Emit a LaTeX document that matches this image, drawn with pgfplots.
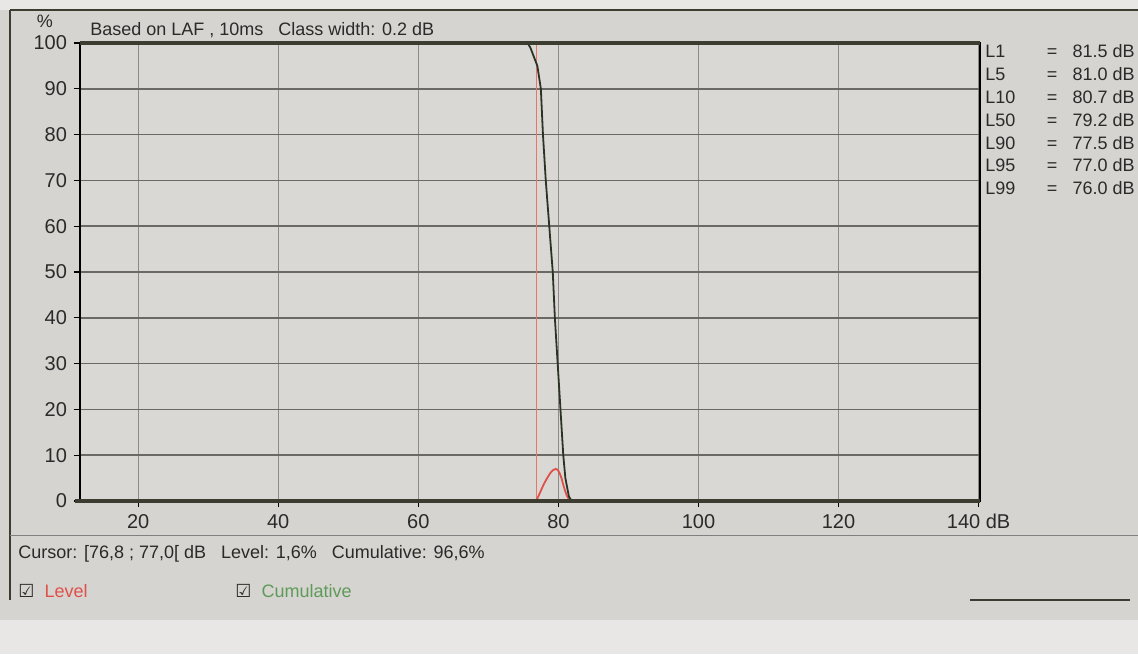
\documentclass[border=0pt]{standalone}
\usepackage{pgfplots}
\pgfplotsset{compat=1.18}
\usepackage{fontspec}
\setmainfont{Liberation Sans}
\newfontfamily\dejavu{DejaVu Sans}
\definecolor{panel}{HTML}{D6D4D0}
\definecolor{plotbg}{HTML}{DAD8D4}
\definecolor{lowstrip}{HTML}{E8E7E5}
\definecolor{frame}{HTML}{3C3C30}
\definecolor{txt}{HTML}{2A2A2A}
\definecolor{levelred}{HTML}{E0504A}
\definecolor{cursorred}{HTML}{E6766A}
\definecolor{cumul}{HTML}{2B3325}
\definecolor{cumgreen}{HTML}{5E9A5A}
\definecolor{gridv}{HTML}{8C8B87}
\definecolor{gridh}{HTML}{6A6965}

\pgfplotstableread{
x y
75.6 100
76.0 99
76.5 97
77.0 95
77.5 90
77.8 80
78.2 70
78.7 60
79.2 50
79.5 40
79.9 30
80.3 20
80.7 10
81.0 5
81.5 1
81.9 0
}\cumtable

\pgfplotstableread{
x y
76.8 0
77.2 1.2
77.6 2.6
78.0 3.9
78.4 5.0
78.8 6.0
79.2 6.7
79.6 7.0
80.0 6.6
80.4 5.2
80.8 3.0
81.2 1.2
81.6 0.2
81.8 0
}\leveltable

\begin{document}
\begin{tikzpicture}
\fill[panel] (0,0) rectangle (569pt,327pt);
\useasboundingbox (0,0) rectangle (569pt,327pt);
\fill[lowstrip] (0,0) rectangle (569pt,17pt);
\fill[lowstrip] (0,322pt) rectangle (569pt,327pt);
\draw[frame, line width=1pt] (5pt,322pt) -- (569pt,322pt);
\draw[frame, line width=1pt] (5pt,27pt) -- (5pt,322pt);
\draw[gray, line width=0.5pt] (5pt,59.5pt) -- (569pt,59.5pt);
\draw[frame, line width=0.8pt] (485pt,27pt) -- (565pt,27pt);

\begin{axis}[
  at={(40pt,76.5pt)}, anchor=south west,
  scale only axis, width=450pt, height=229pt,
  xmin=11.7, xmax=140.2, ymin=0, ymax=100,
  axis background/.style={fill=plotbg},
  xtick={20,40,60,80,100,120,140},
  xticklabels={20,40,60,80,100,120,140 dB},
  ytick={0,10,...,100},
  tick align=outside, tick pos=left,
  major tick length=3pt,
  tick style={black, line width=0.6pt},
  /pgf/number format/assume math mode=true,
  ticklabel style={font=\fontsize{10}{12}\selectfont, text=txt},
  xmajorgrids, ymajorgrids,
  x grid style={gridv, line width=0.5pt},
  y grid style={gridh, line width=0.8pt},
  axis line style={black, line width=0.7pt},
  clip=false,
]
\addplot[cursorred, line width=0.8pt] coordinates {(76.9,0) (76.9,100)};
\addplot[levelred, line width=0.9pt, smooth] table[x=x,y=y] {\leveltable};
\addplot[cumul, line width=0.9pt] table[x=x,y=y] {\cumtable};
\draw[frame, line width=1.6pt] (rel axis cs:-0.005,0) -- (rel axis cs:1,0);
\draw[frame, line width=1.6pt] (rel axis cs:0,1) -- (rel axis cs:1,1);
\end{axis}

\begin{scope}[every node/.style={text=txt, inner sep=0pt}]
\node[anchor=base] at (22.5pt,313pt) {\fontsize{9}{11}\selectfont\%};
\node[anchor=base west] at (45pt,309pt) {\fontsize{9}{11}\selectfont Based on LAF , 10ms \ \ Class width: 0.2 dB};

\foreach \lab/\val [count=\i from 0] in {L1/81.5,L5/81.0,L10/80.7,L50/79.2,L90/77.5,L95/77.0,L99/76.0} {
  \node[anchor=base west] at (492.5pt,298pt-\i*11.4pt) {\fontsize{9}{11}\selectfont \lab};
  \node[anchor=base] at (526pt,298pt-\i*11.4pt) {\fontsize{9}{11}\selectfont =};
  \node[anchor=base east] at (567.5pt,298pt-\i*11.4pt) {\fontsize{9}{11}\selectfont \val\ dB};
}

\node[anchor=base west] at (9pt,48pt) {\fontsize{9}{11}\selectfont Cursor: [76,8 ; 77,0[ dB \ \ Level: 1,6\% \ \ Cumulative: 96,6\%};
\node[anchor=base west] at (9pt,28.5pt) {\fontsize{9}{11}\selectfont{\dejavu ☑}\ \ \textcolor{levelred}{Level}};
\node[anchor=base west] at (117.5pt,28.5pt) {\fontsize{9}{11}\selectfont{\dejavu ☑}\ \ \textcolor{cumgreen}{Cumulative}};
\end{scope}
\end{tikzpicture}
\end{document}
